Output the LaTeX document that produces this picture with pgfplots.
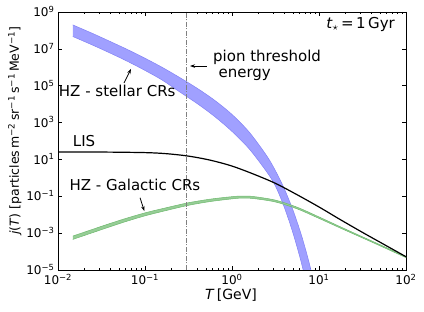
\documentclass[border=0pt]{standalone}
\usepackage{pgfplots}
\pgfplotsset{compat=1.18}
\usepackage{pgfplotstable}
\usepgfplotslibrary{fillbetween}
\usetikzlibrary{arrows.meta}
\usepackage{fontspec}
\setmainfont{DejaVu Sans}
\definecolor{bandfill}{RGB}{160,160,255}
\definecolor{bandedge}{RGB}{130,130,245}
\definecolor{gfill}{RGB}{150,205,150}
\definecolor{gedge}{RGB}{110,185,110}
\newcommand\sups[1]{\textsuperscript{#1}}

\pgfplotstableread{
lx u l
-1.83 8.30 7.67
-1.6 7.83 7.20
-1.4 7.40 6.77
-1.2 6.96 6.32
-1.0 6.49 5.83
-0.8 5.99 5.30
-0.6 5.44 4.66
-0.4 4.86 4.03
-0.2 4.21 3.33
0.0 3.44 2.52
0.2 2.47 1.56
0.4 1.19 0.32
0.5 0.38 -0.45
0.6 -0.58 -1.58
0.7 -1.74 -2.98
0.8 -3.14 -4.66
0.9 -4.85 -6.73
1.0 -6.94 -9.2
}\stellar

\pgfplotstableread{
lx ly
-2.0 1.40
-1.5 1.40
-1.0 1.37
-0.75 1.31
-0.5 1.18
-0.25 0.96
0.0 0.64
0.25 0.20
0.5 -0.30
0.75 -0.92
1.0 -1.58
1.25 -2.28
1.5 -2.96
1.75 -3.62
2.0 -4.28
}\lis

\pgfplotstableread{
lx u l
-1.83 -3.16 -3.34
-1.5 -2.63 -2.81
-1.25 -2.245 -2.415
-1.0 -1.90 -2.06
-0.75 -1.615 -1.765
-0.5 -1.35 -1.49
-0.25 -1.155 -1.285
0.0 -1.02 -1.14
0.12 -0.985 -1.095
0.25 -1.015 -1.125
0.5 -1.21 -1.31
0.75 -1.595 -1.685
1.0 -2.12 -2.20
1.25 -2.665 -2.735
1.5 -3.20 -3.26
1.75 -3.73 -3.79
2.0 -4.27 -4.33
}\gal

\begin{document}
\begin{tikzpicture}
\begin{axis}[
  scale only axis, width=348bp, height=258bp,
  xmode=log, ymode=log, log basis x=10, log basis y=10,
  xmin=1e-2, xmax=1e2, ymin=1e-5, ymax=1e9,
  xtick={1e-2,1e-1,1,10,100},
  ytick={1e-5,1e-3,1e-1,1e1,1e3,1e5,1e7,1e9},
  minor xtick={2e-2,3e-2,4e-2,5e-2,6e-2,7e-2,8e-2,9e-2,0.2,0.3,0.4,0.5,0.6,0.7,0.8,0.9,2,3,4,5,6,7,8,9,20,30,40,50,60,70,80,90},
  yminorticks=false,
  tick align=inside,
  major tick length=4bp, minor tick length=2bp,
  every tick/.style={black, line width=0.6bp},
  axis line style={line width=0.8bp},
  tick label style={font=\fontsize{12bp}{14bp}\selectfont},
  xticklabel style={yshift=-0.5bp},
  yticklabel style={yshift=0.5bp},
  xticklabel={\pgfmathtruncatemacro\e{round(\tick)}10\textsuperscript{\ifnum\e<0 −\number-\e\else\e\fi}},
  yticklabel={\pgfmathtruncatemacro\e{round(\tick)}10\textsuperscript{\ifnum\e<0 −\number-\e\else\e\fi}},
  xlabel={\textit{T}\,[GeV]},
  ylabel={\textit{j}(\textit{T}) [particles\,m\sups{−2}\,sr\sups{−1}\,s\sups{−1}\,MeV\sups{−1}]},
  xlabel style={font=\fontsize{14bp}{16bp}\selectfont, at={(axis description cs:0.497,-0.114)}, anchor=base},
  ylabel style={font=\fontsize{12.5bp}{15bp}\selectfont, at={(axis description cs:-0.124,0.54)}, anchor=center},
]
% stellar band
\addplot[name path=SU, draw=bandedge, line width=0.5bp, smooth] table[x expr=10^(\thisrow{lx}), y expr=10^(\thisrow{u})] {\stellar};
\addplot[name path=SL, draw=bandedge, line width=0.5bp, smooth] table[x expr=10^(\thisrow{lx}), y expr=10^(\thisrow{l})] {\stellar};
\addplot[bandfill] fill between[of=SU and SL];
% galactic band
\addplot[name path=GU, draw=gedge, line width=0.5bp, smooth] table[x expr=10^(\thisrow{lx}), y expr=10^(\thisrow{u})] {\gal};
\addplot[name path=GL, draw=gedge, line width=0.5bp, smooth] table[x expr=10^(\thisrow{lx}), y expr=10^(\thisrow{l})] {\gal};
\addplot[gfill] fill between[of=GU and GL];
% LIS
\addplot[black, line width=1.2bp, smooth] table[x expr=10^(\thisrow{lx}), y expr=10^(\thisrow{ly})] {\lis};
% pion threshold
\addplot[gray, line width=0.8bp, dash pattern=on 5bp off 1.5bp on 1bp off 1.5bp] coordinates {(0.3,1e-5) (0.3,1e9)};

\begin{scope}[font=\fontsize{15bp}{18bp}\selectfont]
\node[anchor=base east, inner sep=0pt] at (axis cs:74.8,1.32e8) {\textit{t}$_\star$\,=\,1\,Gyr};
\node[anchor=base west, inner sep=0pt] at (axis cs:0.605,1.94e6) {pion threshold};
\node[anchor=base west, inner sep=0pt] at (axis cs:0.697,2.97e5) {energy};
\node[anchor=base west, inner sep=0pt] at (axis cs:0.0102,2.5e4) {HZ - stellar CRs};
\node[anchor=base west, inner sep=0pt] at (axis cs:0.01476,49) {LIS};
\node[anchor=base west, inner sep=0pt] at (axis cs:0.0135,0.195) {HZ - Galactic CRs};
\end{scope}
\draw[-{Stealth[length=5bp,width=3.5bp]}, line width=0.8bp] (axis cs:0.512,1.17e6) -- (axis cs:0.329,1.17e6);
\draw[-{Stealth[length=5bp,width=3.5bp]}, line width=0.8bp] (axis cs:0.0574,1.41e5) -- (axis cs:0.069,8.1e5);
\draw[-{Stealth[length=5bp,width=3.5bp]}, line width=0.8bp] (axis cs:0.0877,0.0832) -- (axis cs:0.0982,0.0158);
\end{axis}
\pgfresetboundingbox
\useasboundingbox (-58bp,-42bp) rectangle (366bp,270bp);
\end{tikzpicture}
\end{document}
